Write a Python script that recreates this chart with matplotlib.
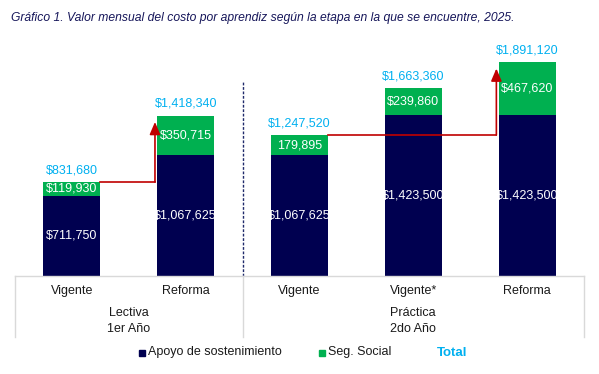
import matplotlib.pyplot as plt
from matplotlib.patches import Rectangle

plt.rcParams['font.family'] = ['Liberation Sans', 'DejaVu Sans']

categories = ["Vigente", "Reforma", "Vigente", "Vigente*", "Reforma"]
apoyo = [711750, 1067625, 1067625, 1423500, 1423500]
seg_social = [119930, 350715, 179895, 239860, 467620]
totals = [831680, 1418340, 1247520, 1663360, 1891120]
seg_fmt = ["${:,}", "${:,}", "{:,}", "${:,}", "${:,}"]
groups = ["Lectiva", "Práctica"]
group_sub = ["1er Año", "2do Año"]
group_center = [0.5, 3.0]
group_edges = [-0.5, 1.5, 4.5]

navy = '#000050'
green = '#00B050'
blue = '#00B0F0'
red = '#C00000'

fig = plt.figure(figsize=(5.99, 3.74), dpi=100)
ax = fig.add_axes([15 / 599, 98 / 374, 569 / 599, 226 / 374])

x = list(range(len(categories)))
ax.bar(x, apoyo, width=0.5, color=navy, zorder=2)
ax.bar(x, seg_social, width=0.5, bottom=apoyo, color=green, zorder=2)

for i in x:
    ax.text(i, apoyo[i] / 2, "${:,}".format(apoyo[i]), ha='center', va='center',
            color='white', fontsize=9, zorder=4)
    ax.text(i, apoyo[i] + seg_social[i] / 2, seg_fmt[i].format(seg_social[i]),
            ha='center', va='center', color='white', fontsize=9, zorder=4)
    ax.annotate("${:,}".format(totals[i]), (i, totals[i]), xytext=(0, 8.5),
                textcoords='offset points', ha='center', va='center',
                color=blue, fontsize=9)

# arrows between scenarios
for a, b in [(0, 1), (2, 4)]:
    xa = b - 0.27
    ax.plot([a + 0.25, xa], [totals[a], totals[a]], color=red, lw=1.2, zorder=3)
    ax.annotate("", xy=(xa, totals[b] - 55000), xytext=(xa, totals[a]),
                arrowprops=dict(arrowstyle='-|>,head_length=0.75,head_width=0.32',
                                color=red, lw=1.2, shrinkA=0, shrinkB=0,
                                mutation_scale=10), zorder=3)

# dotted separator between stages
ax.plot([1.5, 1.5], [0, 1730000], color='#1F2A6B', lw=1,
        linestyle=(0, (2, 1.2)), zorder=1)

ax.set_xlim(-0.5, 4.5)
ax.set_ylim(0, 2000000)
ax.axis('off')

# category table below the axis
tr = ax.get_xaxis_transform()
ax.plot([-0.5, 4.5], [0, 0], color='#D9D9D9', lw=1, transform=tr, clip_on=False)
for e in group_edges:
    ax.plot([e, e], [0, -60.7 / 226], color='#D9D9D9', lw=1, transform=tr,
            clip_on=False)
for i in x:
    ax.text(i, -15 / 226, categories[i], ha='center', va='center', fontsize=9,
            color='#1a1a1a', transform=tr)
for g, s, c in zip(groups, group_sub, group_center):
    ax.text(c, -37 / 226, g, ha='center', va='center', fontsize=9,
            color='#1a1a1a', transform=tr)
    ax.text(c, -52.5 / 226, s, ha='center', va='center', fontsize=9,
            color='#1a1a1a', transform=tr)

# legend
H = 374
fig.add_artist(Rectangle((139 / 599, (H - 356) / H), 6 / 599, 6 / H,
                         color=navy, transform=fig.transFigure))
fig.text(148 / 599, (H - 352.5) / H, "Apoyo de sostenimiento", fontsize=9,
         va='center', color='#1a1a1a')
fig.add_artist(Rectangle((319 / 599, (H - 356) / H), 6 / 599, 6 / H,
                         color=green, transform=fig.transFigure))
fig.text(328 / 599, (H - 352.5) / H, "Seg. Social", fontsize=9,
         va='center', color='#1a1a1a')
fig.text(437 / 599, (H - 352.5) / H, "Total", fontsize=9.5, fontweight='bold',
         va='center', color=blue)

fig.text(11 / 599, (H - 18.5) / H,
         "Gráfico 1. Valor mensual del costo por aprendiz según la etapa en la que se encuentre, 2025.",
         fontsize=8.7, style='italic', va='center', color='#16165a')

fig.savefig("out.png", dpi=100)
